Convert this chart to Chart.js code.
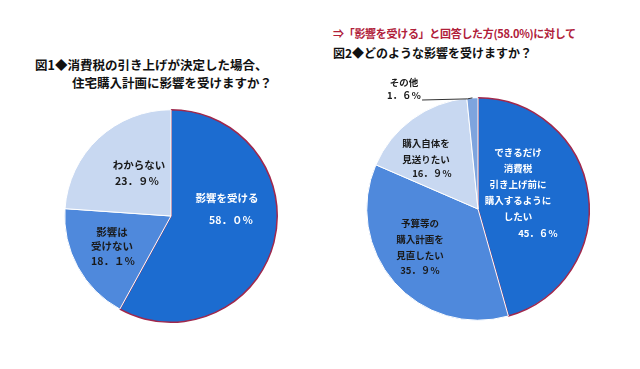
<!DOCTYPE html>
<html>
<head>
<meta charset="utf-8">
<script src="https://cdn.jsdelivr.net/npm/chart.js@4.4.0/dist/chart.umd.min.js"></script>
<style>
  body { margin: 0; background: #fff; width: 640px; height: 369px; overflow: hidden; position: relative;
         font-family: "Noto Sans CJK JP", "Noto Sans", sans-serif; }
  .t { position: absolute; white-space: nowrap; font-weight: bold; color: #111; }
  canvas { position: absolute; }
</style>
</head>
<body>
<div class="t" style="left:35px; top:55px; font-size:12.5px;">図1◆消費税の引き上げが決定した場合、</div>
<div class="t" style="left:72px; top:73px; font-size:12.5px;">住宅購入計画に影響を受けますか？</div>
<div class="t" style="left:333px; top:25px; font-size:11px; color:#b0203a; letter-spacing:-0.3px;">⇒「影響を受ける」と回答した方(58.0%)に対して</div>
<div class="t" style="left:333px; top:44px; font-size:12px;">図2◆どのような影響を受けますか？</div>

<canvas id="c1" width="260" height="240" style="left:40px; top:100px;"></canvas>
<canvas id="c2" width="280" height="290" style="left:340px; top:60px;"></canvas>

<script>
// 図1
const labels1 = [["影響を受ける"], ["影響は", "受けない"], ["わからない"]];
const values1 = [58.0, 18.1, 23.9];
const valueText1 = ["58．０％", "18．１％", "23．９％"];

// 図2
const labels2 = [["できるだけ", "消費税", "引き上げ前に", "購入するように", "したい"],
                 ["予算等の", "購入計画を", "見直したい"],
                 ["購入自体を", "見送りたい"],
                 ["その他"]];
const values2 = [45.6, 35.9, 16.9, 1.6];
const valueText2 = ["45．６％", "35．９％", "16．９％", "1．６％"];

const DARK = "#1c6cd0";
const MID = "#4f89dc";
const LIGHT = "#c8d8f1";

// ラベル描画
const sliceLabels = {
    id: "sliceLabels",
    afterDatasetsDraw(chart, args, opts) {
        const ctx = chart.ctx;
        const arcs = chart.getDatasetMeta(0).data;
        ctx.save();
        ctx.font = "bold " + opts.fontSize + "px 'Noto Sans CJK JP', sans-serif";
        ctx.textAlign = "center";
        ctx.textBaseline = "middle";
        arcs.forEach((arc, i) => {
            const p = opts.pos[i];
            const cx = arc.x, cy = arc.y;
            ctx.fillStyle = opts.colors[i];
            opts.names[i].forEach((line, k) => {
                ctx.fillText(line, cx + p.name[0], cy + p.name[1] + k * opts.lineHeight);
            });
            ctx.fillText(opts.values[i], cx + p.value[0], cy + p.value[1]);
            if (p.leader) {
                const w = ctx.measureText(opts.values[i]).width;
                const mid = (arc.startAngle + arc.endAngle) / 2;
                const ex = cx + Math.cos(mid) * arc.outerRadius;
                const ey = cy + Math.sin(mid) * arc.outerRadius;
                const sx = cx + p.value[0] + w / 2 + 1;
                const sy = cy + p.value[1] + 5;
                ctx.strokeStyle = "#333";
                ctx.lineWidth = 1;
                ctx.beginPath();
                ctx.moveTo(sx, sy);
                ctx.lineTo(ex - 5, ey + 1);
                ctx.lineTo(ex, ey);
                ctx.stroke();
            }
        });
        ctx.restore();
    }
};

Chart.defaults.animation = false;

new Chart(document.getElementById("c1"), {
    type: "pie",
    data: {
        labels: labels1.map(l => l.join("")),
        datasets: [{
            data: values1,
            backgroundColor: [DARK, MID, LIGHT],
            borderColor: ["#a0284c", "#ffffff", "#ffffff"],
            borderWidth: [1.5, 1, 1]
        }]
    },
    options: {
        responsive: false,
        layout: { padding: { left: 24, right: 22, top: 9, bottom: 17 } },
        plugins: {
            legend: { display: false },
            tooltip: { enabled: false },
            sliceLabels: {
                names: labels1,
                values: valueText1,
                colors: ["#ffffff", "#1a1a1a", "#1a1a1a"],
                fontSize: 10.5,
                lineHeight: 14,
                pos: [
                    { name: [56, -18], value: [60, 4] },
                    { name: [-59, 16], value: [-58, 45] },
                    { name: [-32, -51], value: [-34, -35] }
                ]
            }
        }
    },
    plugins: [sliceLabels]
});

new Chart(document.getElementById("c2"), {
    type: "pie",
    data: {
        labels: labels2.map(l => l.join("")),
        datasets: [{
            data: values2,
            backgroundColor: [DARK, MID, LIGHT, "#7ea4de"],
            borderColor: ["#a0284c", "#ffffff", "#ffffff", "#ffffff"],
            borderWidth: [1.5, 1, 1, 1]
        }]
    },
    options: {
        responsive: false,
        layout: { padding: { left: 26, right: 30, top: 37, bottom: 29 } },
        plugins: {
            legend: { display: false },
            tooltip: { enabled: false },
            sliceLabels: {
                names: labels2,
                values: valueText2,
                colors: ["#ffffff", "#1a1a1a", "#1a1a1a", "#1a1a1a"],
                fontSize: 9.5,
                lineHeight: 16,
                pos: [
                    { name: [40, -57], value: [60, 24] },
                    { name: [-58, 14], value: [-58, 61] },
                    { name: [-52, -66], value: [-46, -36] },
                    { name: [-74, -127], value: [-74, -114], leader: true }
                ]
            }
        }
    },
    plugins: [sliceLabels]
});
</script>
</body>
</html>
